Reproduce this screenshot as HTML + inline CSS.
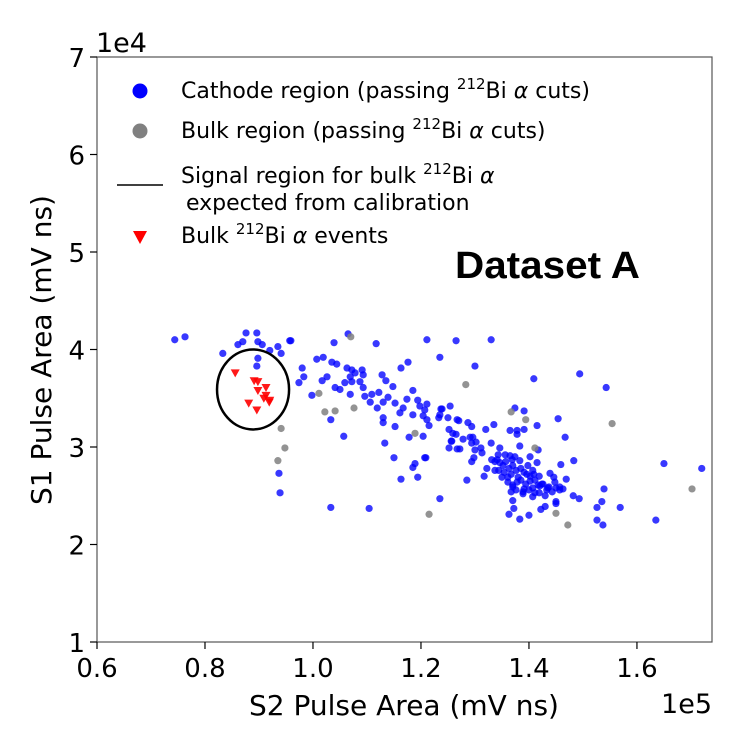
<!DOCTYPE html>
<html><head><meta charset="utf-8"><style>
body{margin:0;background:#fff;}
svg{display:block;font-family:"DejaVu Sans","Liberation Sans",sans-serif;}
</style></head><body>
<svg id="chart" width="750" height="750" viewBox="0 0 750 750">
<rect width="750" height="750" fill="#fff"/>
<g id="marks"></g>
<rect x="97" y="57" width="615" height="585" fill="none" stroke="#555" stroke-width="1.2"/>
<g id="axes"></g>
<text x="96" y="52" font-size="27">1e4</text>
<text x="712" y="713" font-size="27" text-anchor="end">1e5</text>
<text x="404" y="715" font-size="28" text-anchor="middle">S2 Pulse Area (mV ns)</text>
<text transform="translate(51,350) rotate(-90)" font-size="28" text-anchor="middle">S1 Pulse Area (mV ns)</text>
<text x="455" y="278" font-size="38" font-weight="bold" font-family="Liberation Sans, sans-serif" textLength="185" lengthAdjust="spacingAndGlyphs">Dataset A</text>
<g font-size="22">
<g><circle cx="140" cy="91" r="7.5" fill="#0000ff"/><text x="181" y="98">Cathode region (passing <tspan dy="-9" font-size="15">212</tspan><tspan dy="9">Bi </tspan><tspan font-style="italic">α</tspan> cuts)</text></g>
<g><circle cx="140" cy="131" r="7.5" fill="#808080"/><text x="181" y="138">Bulk region (passing <tspan dy="-9" font-size="15">212</tspan><tspan dy="9">Bi </tspan><tspan font-style="italic">α</tspan> cuts)</text></g>
<g><line x1="117" y1="185" x2="163" y2="185" stroke="#000" stroke-width="1.5"/><text x="181" y="183">Signal region for bulk <tspan dy="-9" font-size="15">212</tspan><tspan dy="9">Bi </tspan><tspan font-style="italic">α</tspan></text><text x="186" y="210">expected from calibration</text></g>
<g><path d="M133,231 L147,231 L140,244 Z" fill="#ff0000"/><text x="181" y="243">Bulk <tspan dy="-9" font-size="15">212</tspan><tspan dy="9">Bi </tspan><tspan font-style="italic">α</tspan> events</text></g>
</g>
</svg>
<script>
const xTicks=[0.6,0.8,1.0,1.2,1.4,1.6];
const xTickLabels=["0.6","0.8","1.0","1.2","1.4","1.6"];
const yTicks=[1,2,3,4,5,6,7];
const yTickLabels=["1","2","3","4","5","6","7"];
const cathodeX=[0.744,0.763,0.833,0.861,0.876,0.870,0.896,0.898,0.906,0.920,0.935,0.941,0.957,0.898,0.896,0.937,0.939,1.033,1.104,1.235,0.959,1.039,1.065,1.117,1.211,1.265,1.330,1.235,1.176,1.163,0.980,0.974,0.983,0.998,1.007,1.019,1.035,1.044,1.026,1.017,1.041,1.050,1.059,1.063,1.072,1.069,1.072,1.069,1.078,1.091,1.093,1.087,1.093,1.096,1.106,1.109,1.122,1.128,1.135,1.148,1.130,1.119,1.139,1.152,1.161,1.167,1.174,1.185,1.194,1.198,1.207,1.211,1.185,1.204,1.211,1.215,1.235,1.239,1.254,1.250,1.252,1.259,1.257,1.252,1.267,1.130,1.130,1.152,1.133,1.178,1.204,1.057,1.033,1.150,1.185,1.189,1.209,1.163,1.194,1.300,1.409,1.494,1.543,1.454,1.467,1.650,1.720,1.539,1.569,1.635,1.526,1.537,1.535,1.526,1.493,1.482,1.450,1.450,1.430,1.422,1.400,1.383,1.363,1.372,1.370,1.285,1.317,1.207,1.237,1.233,1.265,1.270,1.287,1.294,1.256,1.267,1.272,1.278,1.291,1.296,1.302,1.294,1.300,1.298,1.294,1.313,1.320,1.335,1.365,1.378,1.378,1.391,1.374,1.391,1.415,1.383,1.402,1.415,1.417,1.311,1.330,1.346,1.331,1.322,1.337,1.341,1.346,1.352,1.357,1.363,1.344,1.354,1.367,1.370,1.376,1.361,1.380,1.350,1.337,1.369,1.374,1.383,1.356,1.365,1.343,1.385,1.391,1.378,1.385,1.394,1.391,1.402,1.370,1.361,1.376,1.367,1.389,1.400,1.407,1.420,1.411,1.426,1.433,1.443,1.419,1.407,1.430,1.435,1.450,1.457,1.396,1.407,1.398,1.402,1.409,1.419,1.439,1.446,1.448,1.437,1.424,1.457,1.463,1.469,1.459,1.483,1.417,1.411,1.389,1.370];
const cathodeY=[4.10,4.13,3.96,4.05,4.17,4.08,4.17,4.08,4.05,3.99,4.03,3.96,4.09,3.91,3.83,2.73,2.53,2.38,2.37,2.47,4.09,4.07,4.16,4.06,4.10,4.09,4.10,3.92,3.87,3.81,3.81,3.66,3.72,3.53,3.90,3.92,3.87,3.85,3.72,3.68,3.61,3.59,3.66,3.81,3.79,3.72,3.67,3.54,3.76,3.79,3.74,3.67,3.61,3.52,3.46,3.54,3.56,3.74,3.68,3.62,3.46,3.40,3.51,3.45,3.35,3.40,3.49,3.58,3.48,3.42,3.38,3.44,3.33,3.32,3.28,3.22,3.33,3.39,3.42,3.30,3.18,3.14,3.06,2.99,3.28,3.30,3.25,3.21,3.04,3.10,3.11,3.11,3.28,2.89,2.79,2.83,2.89,2.67,2.69,3.83,3.70,3.75,3.61,3.29,3.10,2.83,2.78,2.57,2.38,2.25,2.25,2.20,2.44,2.38,2.47,2.50,2.44,2.42,2.39,2.36,2.30,2.26,2.31,2.37,2.45,2.66,2.70,2.89,3.39,3.30,3.13,3.27,3.25,3.21,3.06,2.98,2.98,3.08,3.10,3.10,3.05,3.04,2.97,2.89,2.85,2.94,3.18,3.23,3.17,3.17,3.13,3.18,3.40,3.37,3.22,3.01,2.90,2.84,2.97,2.99,3.04,2.99,2.87,2.78,2.76,2.87,2.84,2.81,2.85,2.78,2.76,2.74,2.72,2.81,2.76,2.69,2.69,2.69,2.85,2.87,2.90,2.86,2.92,2.91,2.92,2.78,2.74,2.64,2.66,2.62,2.57,2.65,2.61,2.64,2.56,2.54,2.52,2.56,2.58,2.60,2.66,2.62,2.56,2.54,2.53,2.49,2.50,2.58,2.58,2.56,2.72,2.76,2.81,2.70,2.72,2.70,2.73,2.69,2.64,2.59,2.62,2.59,2.57,2.67,2.82,2.86,2.61,2.53,2.54,2.59];
const bulkX=[0.941,0.948,0.935,1.070,1.011,1.022,1.041,1.076,1.189,1.215,1.283,1.367,1.394,1.411,1.450,1.472,1.554,1.702];
const bulkY=[3.19,2.99,2.86,4.13,3.55,3.36,3.37,3.40,3.14,2.31,3.64,3.36,3.28,2.99,2.32,2.20,3.24,2.57];
const eventX=[0.856,0.891,0.898,0.898,0.913,0.909,0.881,0.896,0.919,0.920,0.913];
const eventY=[3.76,3.68,3.67,3.58,3.61,3.50,3.45,3.38,3.46,3.48,3.53];
const signalCenter=[0.889,3.59];
const signalRadii=[0.0667,0.41];

const L=97,T=57,R=712,B=642,XMIN=0.6,XMAX=1.739,YMIN=1,YMAX=7;
const sx=v=>L+(v-XMIN)/(XMAX-XMIN)*(R-L);
const sy=v=>B-(v-YMIN)/(YMAX-YMIN)*(B-T);
const NS="http://www.w3.org/2000/svg";
const marks=document.getElementById('marks'),axes=document.getElementById('axes');
function mk(tag,attrs,parent){const e=document.createElementNS(NS,tag);for(const k in attrs)e.setAttribute(k,attrs[k]);parent.appendChild(e);return e;}
cathodeX.forEach((x,i)=>{const c=mk('circle',{cx:sx(x),cy:sy(cathodeY[i]),r:3.6,fill:'#0000ff','fill-opacity':0.78},marks);

});
bulkX.forEach((x,i)=>{const c=mk('circle',{cx:sx(x),cy:sy(bulkY[i]),r:3.6,fill:'#808080','fill-opacity':0.85},marks);

});
const el=mk('ellipse',{cx:sx(signalCenter[0]),cy:sy(signalCenter[1]),rx:sx(signalCenter[0]+signalRadii[0])-sx(signalCenter[0]),ry:sy(signalCenter[1])-sy(signalCenter[1]+signalRadii[1]),fill:'none',stroke:'#000','stroke-width':2.5},marks);


eventX.forEach((x,i)=>{const X=sx(x),Y=sy(eventY[i]);const p=mk('path',{d:`M${X-4.5},${Y-3.5} L${X+4.5},${Y-3.5} L${X},${Y+4.5} Z`,fill:'#ff0000','fill-opacity':0.9},marks);

});
xTicks.forEach((v,i)=>{const X=sx(v);const l=mk('line',{x1:X,y1:B,x2:X,y2:B+7,stroke:'#000','stroke-width':1.2},axes);


const t=mk('text',{x:X,y:B+35,'font-size':26,'text-anchor':'middle'},axes);t.textContent=xTickLabels[i];

});
yTicks.forEach((v,i)=>{const Y=sy(v);const l=mk('line',{x1:L-7,y1:Y,x2:L,y2:Y,stroke:'#000','stroke-width':1.2},axes);


const t=mk('text',{x:L-12,y:Y+10,'font-size':26,'text-anchor':'end'},axes);t.textContent=yTickLabels[i];

});
</script>
</body></html>
